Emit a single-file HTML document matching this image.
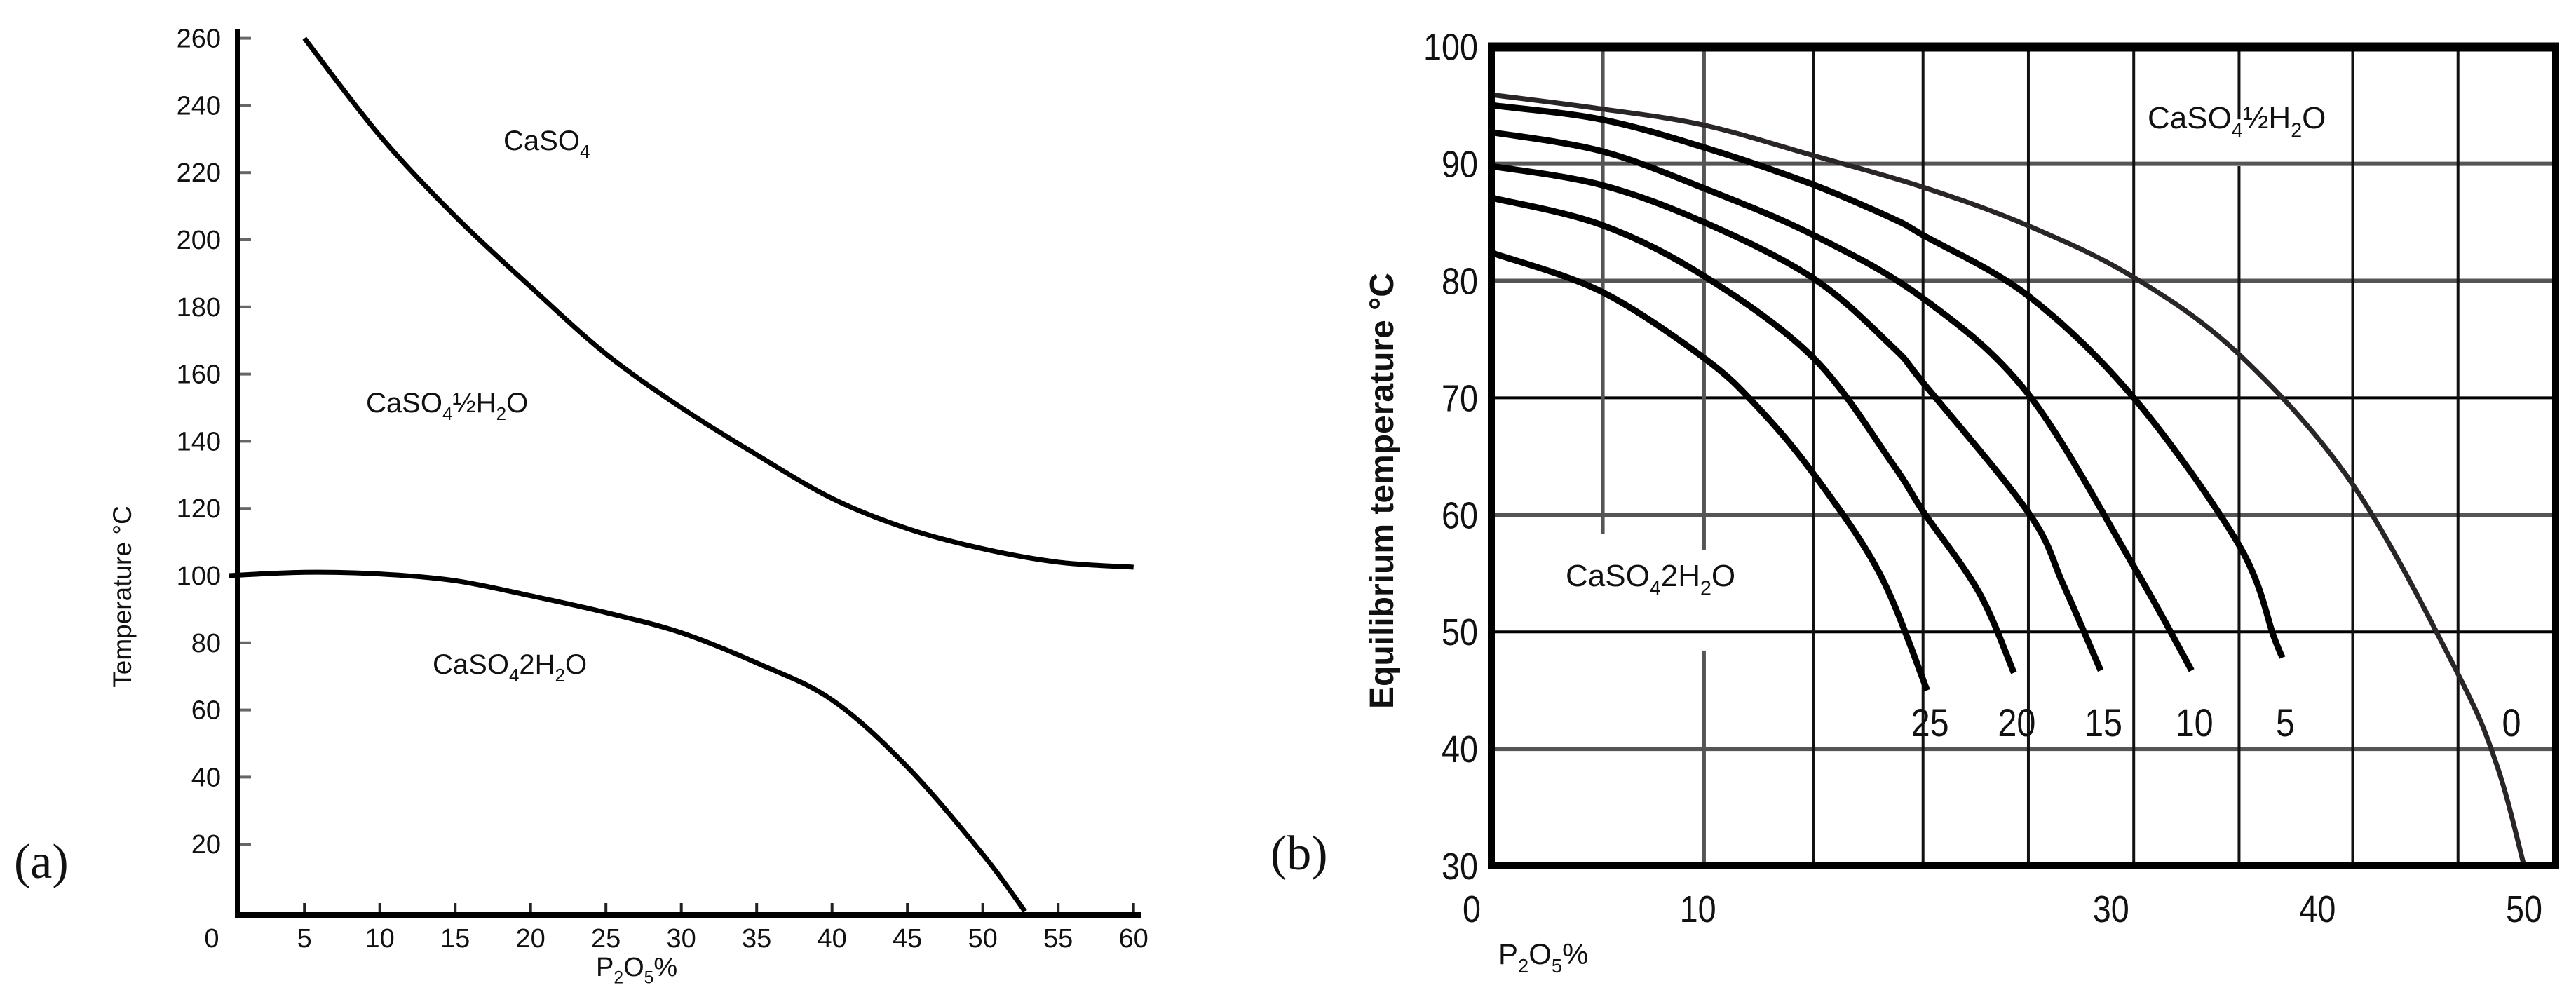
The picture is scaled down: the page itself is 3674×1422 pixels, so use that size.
<!DOCTYPE html>
<html><head><meta charset="utf-8"><style>
html,body{margin:0;padding:0;background:#fff;}
svg{display:block;font-family:"Liberation Sans",Arial,sans-serif;}
</style></head><body>
<svg id="fig" width="3674" height="1422" viewBox="0 0 3674 1422" xmlns="http://www.w3.org/2000/svg">
<rect width="3674" height="1422" fill="#fff"/>
<g id="chartA"></g>
<g id="chartB"></g>
</svg>
<script>
// ---------- Chart (a) data ----------
const aXTicks = [0,5,10,15,20,25,30,35,40,45,50,55,60];
const aYTicks = [20,40,60,80,100,120,140,160,180,200,220,240,260];
const aUpperX = [5,10,15,20,25,30,35,40,45,50,55,60];
const aUpperY = [260,231,207,186,166,150,136,123,114,108,104,102.5];
const aLowerX = [0,5,10,15,20,25,30,35,40,45,50,52.8];
const aLowerY = [100,101,100.5,98.5,94,89,83,74,63,43,17,0];

// ---------- Chart (b) data ----------
const bXTicks = [0,10,30,40,50];
const bYTicks = [30,40,50,60,70,80,90,100];
const bGridX = [5.4,10.3,15.6,20.9,26.0,31.1,36.2,41.7,46.8];
const bCurveNames = ["0","5","10","15","20","25"];
const bC0x = [0,5.3,10.3,15.6,20.9,26.0,31.1,36.2,41.7,46.8,48.7,50];
const bC0y = [95.9,94.7,93.3,90.7,88.0,84.7,80.3,73.7,62.6,46.4,38.5,30];
const bC5x = [0,5.3,10.3,15.6,19.45,20.9,26.0,31.1,36.2,37.9,38.3];
const bC5y = [95.0,93.8,91.4,88.2,85.3,83.9,78.7,70.0,57.4,49.5,47.8];
const bC10x = [0,5.3,10.3,15.6,20.9,26.0,31.1,33.9];
const bC10y = [92.7,91.1,87.9,83.9,78.5,70.3,55.6,46.7];
const bC15x = [0,5.3,10.3,15.6,19.45,20.9,26.0,27.7,29.5];
const bC15y = [89.8,88.2,85.0,80.2,74.3,71.3,60.2,54.0,46.7];
const bC20x = [0,5.3,10.3,15.6,19.45,20.9,23.6,25.3];
const bC20y = [87.1,84.8,80.4,73.4,64.3,60.3,53.4,46.5];
const bC25x = [0,5.3,10.3,12.9,15.6,18.8,21.1];
const bC25y = [82.4,79.1,73.4,69.2,63.5,55.0,45.0];

const NS = "http://www.w3.org/2000/svg";
function mk(parent, tag, attrs){
  const e = document.createElementNS(NS, tag);
  for (const k in attrs) e.setAttribute(k, attrs[k]);
  parent.appendChild(e);
  return e;
}
function smooth(pts){
  let d = "M" + pts[0][0].toFixed(1) + "," + pts[0][1].toFixed(1);
  for (let i=0;i<pts.length-1;i++){
    const p0 = pts[i-1]||pts[i], p1=pts[i], p2=pts[i+1], p3=pts[i+2]||pts[i+1];
    const c1x=p1[0]+(p2[0]-p0[0])/6, c1y=p1[1]+(p2[1]-p0[1])/6;
    const c2x=p2[0]-(p3[0]-p1[0])/6, c2y=p2[1]-(p3[1]-p1[1])/6;
    d += " C"+c1x.toFixed(1)+","+c1y.toFixed(1)+" "+c2x.toFixed(1)+","+c2y.toFixed(1)+" "+p2[0].toFixed(1)+","+p2[1].toFixed(1);
  }
  return d;
}
function chem(parent, x, y, size, parts, name){
  const t = mk(parent, "text", {x:x, y:y, "font-size":size, fill:"#111"});
  
  
  parts.forEach(p=>{
    const s = document.createElementNS(NS,"tspan");
    s.textContent = p[0];
    if (p[1]) { s.setAttribute("font-size", size*0.65); s.setAttribute("dy", size*0.28); }
    else if (p[2]) { s.setAttribute("dy", -size*0.28); }
    t.appendChild(s);
  });
  return t;
}

// ---------- Draw chart (a) ----------
(function(){
  const g = document.getElementById("chartA");
  const ax = v => 326.7 + v*21.5;
  const ay = v => 1300 - v*4.79;
  // ticks
  aYTicks.forEach(v=>{
    const tk = mk(g,"line",{x1:342,x2:358,y1:ay(v),y2:ay(v),stroke:"#666","stroke-width":4});
    
    
    const t = mk(g,"text",{x:315,y:ay(v)+13,"font-size":38,"text-anchor":"end",fill:"#111"});
    t.textContent = v;
    
    
  });
  aXTicks.forEach(v=>{
    if (v>0){
      const tk = mk(g,"line",{x1:ax(v),x2:ax(v),y1:1288,y2:1303,stroke:"#222","stroke-width":4});
      
      
    }
    const t = mk(g,"text",{x:v===0?302:ax(v),y:1351,"font-size":38,"text-anchor":"middle",fill:"#111"});
    t.textContent = v;
    
    
  });
  const axes = mk(g,"path",{d:"M339,42 L339,1305 L1628,1305",fill:"none",stroke:"#000","stroke-width":8});
  
  
  const up = mk(g,"path",{d:smooth(aUpperX.map((x,i)=>[ax(x),ay(aUpperY[i])])),fill:"none",stroke:"#000","stroke-width":7});
  
  
  const lo = mk(g,"path",{d:smooth(aLowerX.map((x,i)=>[ax(x),ay(aLowerY[i])])),fill:"none",stroke:"#000","stroke-width":7});
  
  
  chem(g,718,214,40,[["CaSO"],["4",1]],"label-caso4");
  chem(g,522,588,40,[["CaSO"],["4",1],["½H",0,1],["2",1],["O",0,1]],"label-hemihydrate-a");
  chem(g,617,961,40,[["CaSO"],["4",1],["2H",0,1],["2",1],["O",0,1]],"label-dihydrate-a");
  const yt = mk(g,"text",{x:0,y:0,"font-size":37,"text-anchor":"middle",fill:"#111",transform:"translate(187,851) rotate(-90)"});
  yt.textContent = "Temperature °C";
  
  
  chem(g,850,1392,38,[["P"],["2",1],["O",0,1],["5",1],["%",0,1]],"x-axis-title-a");
  const pa = mk(g,"text",{x:20,y:1252,"font-size":70,"font-family":"Liberation Serif, serif",fill:"#111"});
  pa.textContent = "(a)";
  
  
})();

// ---------- Draw chart (b) ----------
(function(){
  const g = document.getElementById("chartB");
  const bx = v => 2127 + v*29.46;
  const by = v => 1235 - (v-30)*16.69;
  // horizontal grid
  bYTicks.forEach(v=>{
    if (v>30 && v<100){
      const gray = (v===90||v===80||v===60||v===40);
      const l = mk(g,"line",{x1:2127,x2:3645,y1:by(v),y2:by(v),stroke:gray?"#555":"#000","stroke-width":gray?6:4});
      
      
    }
    const t = mk(g,"text",{x:2108,y:by(v)+19,"font-size":54,"text-anchor":"end",fill:"#111",textLength:String(v).length*26,lengthAdjust:"spacingAndGlyphs"});
    t.textContent = v;
    
    
  });
  // vertical grid
  bGridX.forEach((v,i)=>{
    let segs = [[67,1235]];
    if (i===0) segs = [[67,by(58.4)]];
    if (i===1) segs = [[67,by(57.0)],[by(48.4),1235]];
    if (i===6) segs = [[67,by(93.8)],[by(89.8),1235]];
    segs.forEach(s=>{
      const l = mk(g,"line",{x1:bx(v),x2:bx(v),y1:s[0],y2:s[1],stroke:(i<2)?"#555":"#111","stroke-width":(i<2)?5:4});
      
      
    });
  });
  bXTicks.forEach(v=>{
    const t = mk(g,"text",{x:v===0?2099:bx(v),y:1315,"font-size":54,"text-anchor":"middle",fill:"#111",textLength:String(v).length*26,lengthAdjust:"spacingAndGlyphs"});
    t.textContent = v;
    
    
  });
  // curves
  const cx = [bC0x,bC5x,bC10x,bC15x,bC20x,bC25x];
  const cy = [bC0y,bC5y,bC10y,bC15y,bC20y,bC25y];
  cx.forEach((xs,k)=>{
    const p = mk(g,"path",{d:smooth(xs.map((x,i)=>[bx(x),by(cy[k][i])])),fill:"none",stroke:k===0?"#2a2626":"#000","stroke-width":k===0?7:9,"stroke-linecap":"butt"});
    
    
    const lx = k===0 ? 3582 : bx(xs[xs.length-1]) + 4;
    const t = mk(g,"text",{x:lx,y:1050,"font-size":56,"text-anchor":"middle",fill:"#111",textLength:bCurveNames[k].length*27,lengthAdjust:"spacingAndGlyphs"});
    t.textContent = bCurveNames[k];
    
    
  });
  const frame = mk(g,"rect",{x:2127,y:67,width:3645-2127,height:1235-67,fill:"none",stroke:"#000","stroke-width":10});
  
  
  const topb = mk(g,"line",{x1:2122,x2:3650,y1:67,y2:67,stroke:"#000","stroke-width":13});
  
  
  chem(g,3063,183,44,[["CaSO"],["4",1],["½H",0,1],["2",1],["O",0,1]],"label-hemihydrate-b");
  chem(g,2233,836,44,[["CaSO"],["4",1],["2H",0,1],["2",1],["O",0,1]],"label-dihydrate-b");
  const yt = mk(g,"text",{x:0,y:0,"font-size":48,"font-weight":"bold","text-anchor":"middle",fill:"#111",transform:"translate(1987,700) rotate(-90)"});
  yt.textContent = "Equilibrium temperature °C";
  
  
  chem(g,2137,1375,42,[["P"],["2",1],["O",0,1],["5",1],["%",0,1]],"x-axis-title-b");
  const pb = mk(g,"text",{x:1812,y:1240,"font-size":70,"font-family":"Liberation Serif, serif",fill:"#111"});
  pb.textContent = "(b)";
  
  
})();
</script>
</body></html>
